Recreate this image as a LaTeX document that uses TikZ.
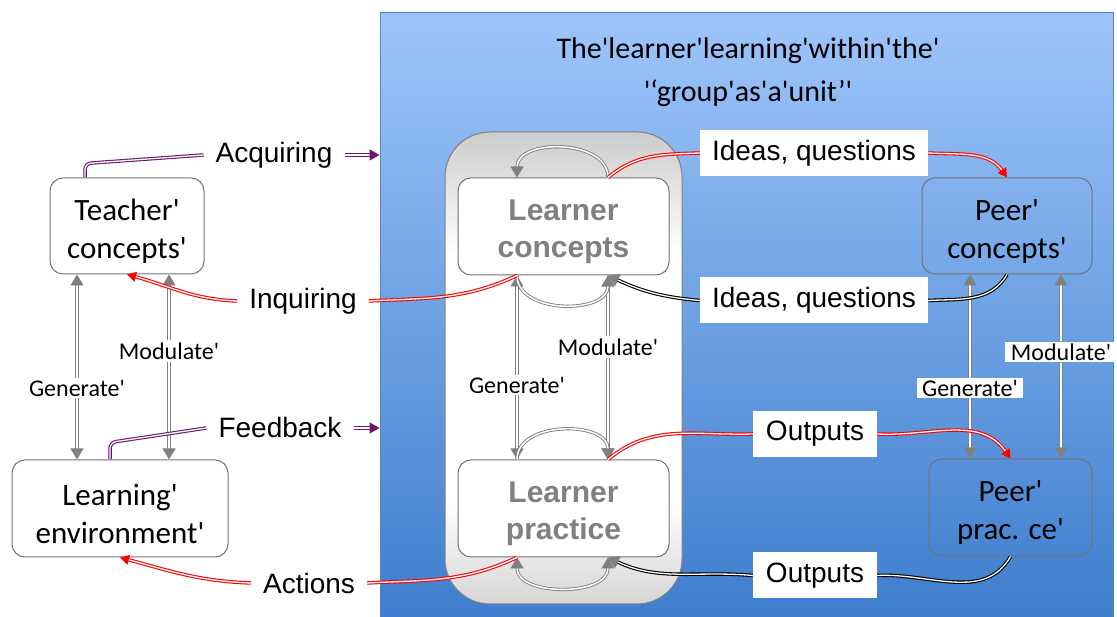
\documentclass[tikz,border=0pt]{standalone}
\usepackage{fontspec}
\setmainfont{Carlito}[Ligatures=TeXOff]
\newfontfamily\arialfont{Liberation Sans}[Ligatures=TeXOff]
\usetikzlibrary{arrows.meta}

\definecolor{panelTop}{RGB}{158,197,250}
\definecolor{panelBot}{RGB}{61,125,204}
\definecolor{panelEdge}{RGB}{84,132,196}
\definecolor{linkGray}{RGB}{128,128,128}
\definecolor{plum}{RGB}{110,20,110}

\pgfdeclareverticalshading{groupglow}{100bp}{%
  color(0bp)=(black!16); color(25bp)=(black!16); color(36bp)=(white); color(62bp)=(white);
  color(75bp)=(black!20); color(100bp)=(black!20)}

% push the two text lines a little lower in the boxes
\newcommand{\boxlift}{\rule{0pt}{32pt}}

\begin{document}
\begin{tikzpicture}[x=1pt,y=1pt,
  box/.style={draw=black!55,line width=1pt,rounded corners=13pt,align=center,
    font=\fontsize{31}{38}\selectfont},
  learner/.style={box,fill=white,text=black!50,minimum width=211pt,minimum height=97pt,
    font=\arialfont\bfseries\fontsize{30}{37}\selectfont},
  tag/.style={font=\arialfont\fontsize{28}{32}\selectfont,inner xsep=12pt},
  tagbox/.style={tag,fill=white,minimum height=46pt},
  modtag/.style={font=\fontsize{24}{28}\selectfont,fill=white,inner xsep=4pt,inner ysep=2pt},
  link/.style={draw=linkGray,double=white,line width=0.9pt,double distance=1.5pt},
  gen/.style={link,-{Triangle[length=11pt,width=13pt]}},
  flow/.style={double=white,line width=1.1pt,double distance=1.3pt},
  redflow/.style={flow,draw=red,-{Triangle[length=9pt,width=10pt]}},
  blackflow/.style={flow,draw=black,-{Triangle[length=11pt,width=13pt,color=linkGray]}},
  plumflow/.style={flow,draw=plum,-{Triangle[length=10pt,width=11pt]}},
]
\useasboundingbox (0,0) rectangle (1117,617);

  % Group panel
  \node[top color=panelTop,bottom color=panelBot,draw=panelEdge,line width=1pt,
    minimum width=733pt,minimum height=612pt] (panel) at (746.5,298) {};
  \node[align=center,font=\fontsize{30}{43}\selectfont] (title) at (748,545)
    {The'learner'learning'within'the'\\'‘group'as'a'unit’'};
  \node[draw=black!50,line width=1pt,rounded corners=45pt,shading=groupglow,
    minimum width=237pt,minimum height=472pt] (group) at (563.5,249) {};

  % Teacher side
  \node[box,minimum width=154pt,minimum height=96pt] (teacher) at (127,391) {\boxlift Teacher'\\concepts'};
  \node[box,minimum width=216pt,minimum height=97pt] (env) at (120,108.5) {\boxlift Learning'\\environment'};

  % Learner
  \node[learner] (lc) at (563.5,390.5) {\boxlift Learner\\concepts};
  \node[learner] (lp) at (563.5,108.5) {\boxlift Learner\\practice};

  % Peer
  \node[box,minimum width=170pt,minimum height=96pt] (pc) at (1007,391) {\boxlift Peer'\\concepts'};
  \node[box,minimum width=163pt,minimum height=97pt] (pp) at (1010.5,109.5) {\boxlift Peer'\\prac. ce'};

  % Labels
  \node[tag] (acq) at (274,462) {Acquiring};
  \node[tag] (inq) at (303,316) {Inquiring};
  \node[tag] (fb) at (280,189) {Feedback};
  \node[tag] (act) at (309,34) {Actions};
  \node[tagbox,minimum width=228pt] (iq1) at (814,464) {Ideas, questions};
  \node[tagbox,minimum width=228pt] (iq2) at (814,316.5) {Ideas, questions};
  \node[tagbox,minimum width=124pt] (out1) at (815,183) {Outputs};
  \node[tagbox,minimum width=124pt] (out2) at (815,41.5) {Outputs};

  \node[modtag] (tgen) at (77,229) {Generate'};
  \node[modtag] (tmod) at (169,266) {Modulate'};
  \node[modtag] (lgen) at (517,232) {Generate'};
  \node[modtag] (lmod) at (608,270) {Modulate'};
  \node[modtag,inner xsep=5pt] (pgen) at (970,229) {Generate'};
  \node[modtag,inner xsep=6pt] (pmod) at (1061,265) {Modulate'};

  % Generate / modulate links
  \foreach \lab/\up/\down in {tgen/teacher/env,tmod/teacher/env,lgen/lc/lp,lmod/lc/lp,pgen/pc/pp,pmod/pc/pp}{
    \draw[gen] (\lab.north) -- (\lab.north |- \up.south);
    \draw[gen] (\lab.south) -- (\lab.south |- \down.north);
  }

  % Learner loops
  \draw[gen] (lmod |- lc.north) to[out=90,in=90,looseness=1.1] (lgen |- lc.north);
  \draw[gen] (lgen |- lc.south) to[out=-90,in=-90,looseness=1.1] (lmod |- lc.south);
  \draw[gen] (lgen |- lp.north) to[out=90,in=90,looseness=1.1] (lmod |- lp.north);
  \draw[gen,{Triangle[length=11pt,width=13pt]}-{Triangle[length=11pt,width=13pt]}]
    (lgen |- lp.south) to[out=-90,in=-90,looseness=1.1] (lmod |- lp.south);

  % Teacher links
  \draw[plumflow,-,rounded corners=6pt] ([xshift=-42pt]teacher.north) -- ++(0,14) -- (acq.west);
  \draw[plumflow] (acq.east) -- (acq.east -| panel.west);
  \draw[plumflow,-,rounded corners=6pt] ([xshift=-10pt]env.north) -- ++(0,17) -- (fb.west);
  \draw[plumflow] (fb.east) -- (fb.east -| panel.west);
  \draw[redflow,-] (lgen |- lc.south) to[out=205,in=3] (inq.east);
  \draw[redflow] (inq.west) to[out=178,in=-15] (teacher.south);
  \draw[redflow,-] (lgen |- lp.south) to[out=205,in=3] (act.east);
  \draw[redflow] (act.west) to[out=178,in=-15] (env.south);

  % Peer links
  \draw[redflow,-] (lmod |- lc.north) to[out=40,in=182] (iq1.west);
  \draw[redflow] (iq1.east) to[out=-3,in=125] (pc.north);
  \draw[blackflow,-] (pc.south) to[out=-120,in=3] (iq2.east);
  \draw[blackflow] (iq2.west) to[out=175,in=-25] (lmod |- lc.south);
  \draw[redflow,-] (lmod |- lp.north) to[out=40,in=182] (out1.west);
  \draw[redflow] (out1.east) to[out=-3,in=125] (pp.north);
  \draw[blackflow,-] (pp.south) to[out=-120,in=3] (out2.east);
  \draw[blackflow] (out2.west) to[out=175,in=-25] (lmod |- lp.south);

\end{tikzpicture}
\end{document}
